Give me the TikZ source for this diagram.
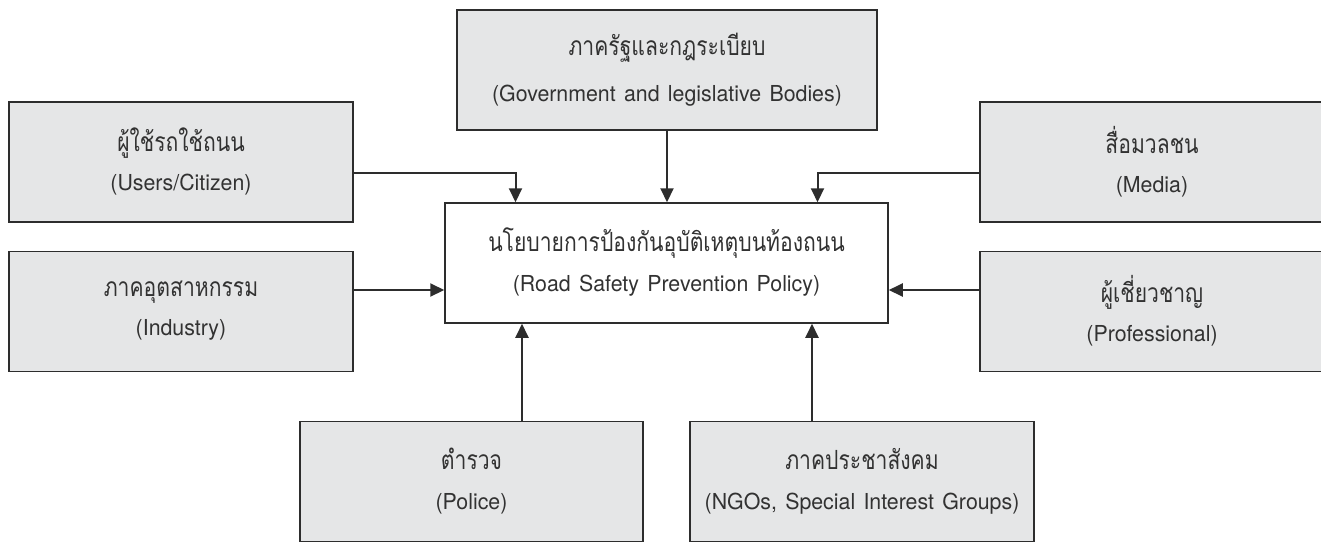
\documentclass[tikz,border=0pt]{standalone}
\usepackage{fontspec}
\setmainfont[WordSpace=1.4,FakeStretch=0.97]{TeX Gyre Heros}
\newfontfamily\thaifont[Script=Thai,Scale=1.2,FakeStretch=0.8]{Loma}
\usetikzlibrary{arrows.meta,positioning,calc}
\definecolor{cBoxFill}{RGB}{229,230,231}
\definecolor{cLine}{RGB}{45,45,45}
\definecolor{cText}{RGB}{50,50,50}

\begin{document}
\begin{tikzpicture}[x=1pt,y=-1pt,
    actor/.style={rectangle,draw=cLine,line width=1.5pt,fill=cBoxFill,minimum width=344pt,minimum height=120pt,
      align=center,text=cText,inner sep=0pt,font=\fontsize{22}{40}\selectfont,
      execute at begin node=\rule{0pt}{42pt},execute at end node=\rule[-6pt]{0pt}{6pt}},
    policybox/.style={actor,fill=white,minimum width=443pt},
    link/.style={-{Triangle[length=14pt,width=13pt]},line width=2pt,draw=cLine},
  ]
  \useasboundingbox (0,0) rectangle (1321,542);
  % Policy
  \node[policybox] (policy) at (666.5,263) {{\thaifont นโยบายการป้องกันอุบัติเหตุบนท้องถนน}\\(Road Safety Prevention Policy)};
  % Stakeholders
  \node[actor,minimum width=420pt] (gov) at (667,70) {{\thaifont ภาครัฐและกฎระเบียบ}\\[6pt](Government and legislative Bodies)};
  \node[actor] (users)    at (181,162)    {{\thaifont ผู้ใช้รถใช้ถนน}\\[-1pt](Users/Citizen)};
  \node[actor] (industry) at (181,311.5)  {{\thaifont ภาคอุตสาหกรรม}\\[-1pt](Industry)};
  \node[actor] (media)    at (1152,162)   {{\thaifont สื่อมวลชน}\\[-1pt](Media)};
  \node[actor] (expert)   at (1152,311.5) {{\thaifont ผู้เชี่ยวชาญ}\\[-1pt](Professional)};
  \node[actor,minimum width=343pt] (police) at (471.5,481.5) {{\thaifont ตำรวจ}\\(Police)};
  \node[actor] (ngo)      at (862,481.5)  {{\thaifont ภาคประชาสังคม}\\(NGOs, Special Interest Groups)};
  % Connectors
  \coordinate (usersOut)  at ([yshift=-11pt]users.east);
  \coordinate (mediaOut)  at ([yshift=-11pt]media.west);
  \coordinate (indOut)    at ([yshift=21.5pt]industry.east);
  \coordinate (expOut)    at ([yshift=21.5pt]expert.west);
  \coordinate (policeOut) at ([xshift=50.5pt]police.north);
  \coordinate (ngoOut)    at ([xshift=-50pt]ngo.north);
  \draw[link] (gov) -- (gov |- policy.north);
  \draw[link] (usersOut) -| ([xshift=-151pt]policy.north);
  \draw[link] (mediaOut) -| ([xshift=151pt]policy.north);
  \draw[link] (indOut) -- (indOut -| policy.west);
  \draw[link] (expOut) -- (expOut -| policy.east);
  \draw[link] (policeOut) -- (policeOut |- policy.south);
  \draw[link] (ngoOut) -- (ngoOut |- policy.south);
\end{tikzpicture}
\end{document}
